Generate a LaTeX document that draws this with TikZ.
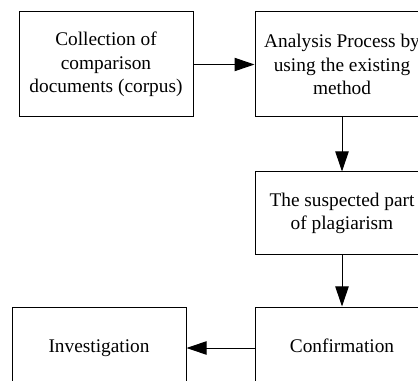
\documentclass[tikz,border=0pt]{standalone}
\usepackage{fontspec}
\setmainfont{Liberation Serif}
\usetikzlibrary{arrows.meta}

\tikzset{every picture/.style={line width=0.75pt}}
\tikzset{stepbox/.style={draw, align=center, inner sep=0pt, minimum width=130.5pt, font=\fontsize{14.5}{17.6}\selectfont}}

\begin{document}
\begin{tikzpicture}[x=0.75pt,y=0.75pt,yscale=-1,xscale=1,>={Triangle[length=15pt,width=10pt]}]
%set diagram 418 wide and 381 high, boxes on the right run past the edge
\useasboundingbox (0,0) rectangle (418,381);
\clip (0,0) rectangle (418,381);

%Shape: Rectangle [id:corpus] 
\node [stepbox, minimum height=78.75pt] (corpus) at (106,64.5) {Collection of\\comparison\\documents (corpus)};
%Shape: Rectangle [id:analysis] 
\node [stepbox, minimum height=78.75pt] (analysis) at (342,64.5) {Analysis Process by\\using the existing\\method};
%Shape: Rectangle [id:suspected] 
\node [stepbox, minimum height=62.25pt] (suspected) at (342,213.5) {The suspected part\\of plagiarism};
%Shape: Rectangle [id:confirm] 
\node [stepbox, minimum height=61.5pt] (confirm) at (342,348) {\strut Confirmation};
%Shape: Rectangle [id:investigate] 
\node [stepbox, minimum height=61.5pt] (investigate) at (99,348) {\strut Investigation};

%Straight Lines [id:arrows] 
\draw [->] (corpus) -- (analysis);
\draw [->] (analysis) -- (suspected);
\draw [->] (suspected) -- (confirm);
\draw [->] (confirm) -- (investigate);

\end{tikzpicture}
\end{document}
